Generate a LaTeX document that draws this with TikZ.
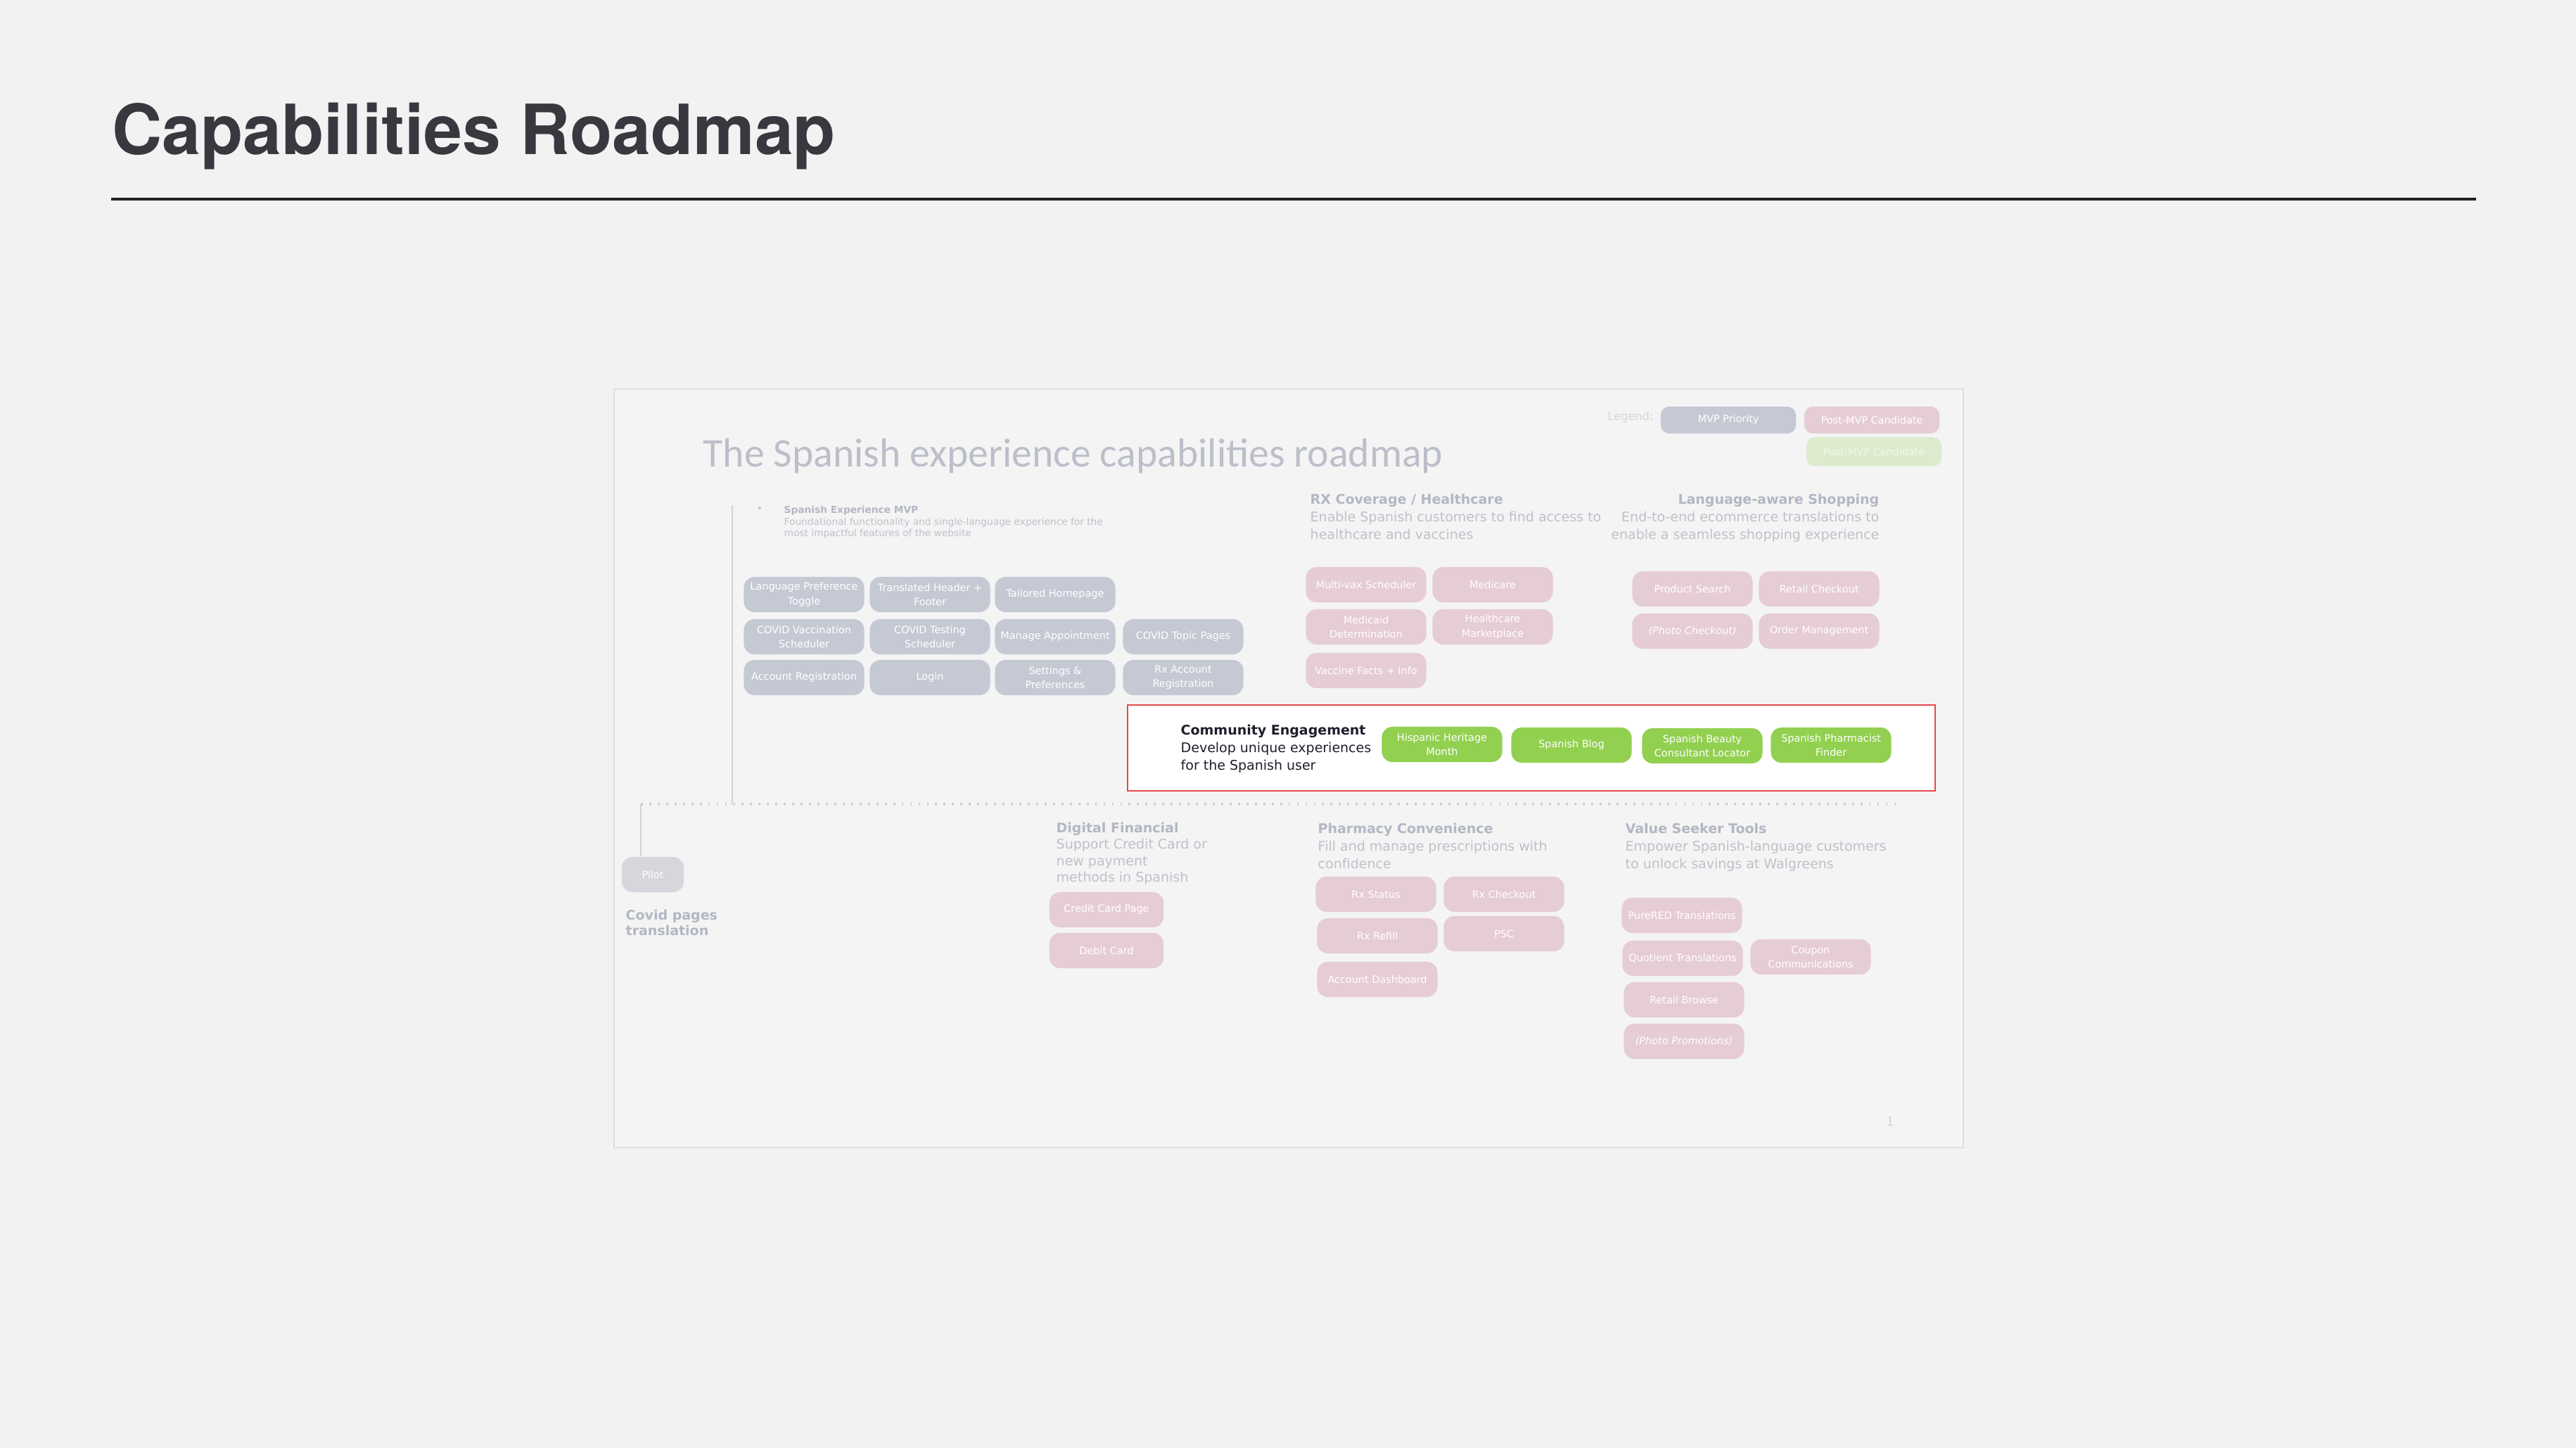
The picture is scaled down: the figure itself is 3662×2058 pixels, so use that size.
\documentclass[tikz,border=0pt]{standalone}
\usepackage{fontspec}
\setmainfont{DejaVu Sans}
\newfontfamily\calibri{Carlito}
\newfontfamily\heros{TeX Gyre Heros}

\definecolor{pagebg}{HTML}{F2F2F2}
\definecolor{slidebg}{HTML}{F4F4F4}
\definecolor{slideedge}{HTML}{DCDEE2}
\definecolor{titleink}{HTML}{38383F}
\definecolor{ruleink}{HTML}{222228}
\definecolor{fadedtitle}{HTML}{BCBFCA}
\definecolor{headgray}{HTML}{B3B7C4}
\definecolor{blurbgray}{HTML}{BEC1CB}
\definecolor{legendgray}{HTML}{D3D5DB}
\definecolor{mvpgray}{HTML}{C4C9D4}
\definecolor{postpink}{HTML}{E6CCD7}
\definecolor{postgreen}{HTML}{DCEACD}
\definecolor{enggreen}{HTML}{92D050}
\definecolor{pilotgray}{HTML}{D6D7DC}
\definecolor{redframe}{HTML}{E5484D}
\definecolor{inkdark}{HTML}{1E1E2D}
\definecolor{lineink}{HTML}{D0D2D8}

\newcommand\boxfont{\fontsize{4.1}{5.7}\selectfont}
\newcommand\blurbfont{\fontsize{5.4}{7.1}\selectfont}
\newcommand\finfont{\fontsize{5.4}{6.7}\selectfont}
\newcommand\smallblurb{\fontsize{3.9}{4.8}\selectfont}
\newcommand\covidfont{\fontsize{5.4}{6.5}\selectfont}

\begin{document}
\begin{tikzpicture}[x=0.01cm, y=-0.01cm,
    box/.style={rounded corners=0.15cm, minimum width=1.71cm, minimum height=0.5cm,
      inner sep=0pt, align=center, text=white, font=\boxfont},
    mvpbox/.style={box, fill=mvpgray},
    postbox/.style={box, fill=postpink},
    engbox/.style={box, fill=enggreen},
    legbox/.style={box, minimum width=1.92cm, minimum height=0.38cm, rounded corners=0.12cm},
    blurb/.style={inner sep=0pt, anchor=north west, align=left, text=blurbgray, font=\blurbfont},
    linkline/.style={draw=lineink, line width=0.5pt},
    dotline/.style={draw=lineink, line width=0.9pt, dash pattern=on 0.8pt off 2.6pt}]

    % Page and heading
    \useasboundingbox[fill=pagebg] (0,0) rectangle (3662,2058);
    \node[anchor=base west, inner sep=0pt, text=titleink, font=\heros\bfseries\fontsize{28}{34}\selectfont]
      (pagetitle) at (159,220) {Capabilities Roadmap};
    \draw[ruleink, line width=1.15pt] (158,283) -- (3520,283);

    % Embedded slide
    \draw[slideedge, fill=slidebg, line width=0.6pt] (873,553) rectangle (2791,1631);
    \node[anchor=base west, inner sep=0pt, text=fadedtitle, font=\calibri\fontsize{16.4}{20}\selectfont]
      (slidetitle) at (999,663) {The Spanish experience capabilities roadmap};

    % Legend
    \node[text=legendgray, font=\fontsize{4.6}{5.5}\selectfont] (legend) at (2318,593) {Legend:};
    \node[legbox, fill=mvpgray] (legmvp) at (2457,597) {MVP Priority};
    \node[legbox, fill=postpink] (legpost) at (2661,597) {Post-MVP Candidate};
    \node[legbox, fill=postgreen, text=white!60!postgreen, minimum height=0.41cm] (legnext) at (2664,642) {Post-MVP Candidate};

    % Spanish Experience MVP
    \node[text=blurbgray, inner sep=0pt, font=\smallblurb] (mvpdot) at (1080,724) {\textbullet};
    \node[blurb, font=\smallblurb] (mvphead) at (1114,718)
      {{\color{headgray}\bfseries Spanish Experience MVP}\\Foundational functionality and single-language experience for the\\most impactful features of the website};
    \node[mvpbox] (lang) at (1143,845) {Language Preference\\Toggle};
    \node[mvpbox] (header) at (1322,845) {Translated Header +\\Footer};
    \node[mvpbox] (home) at (1500,845) {Tailored Homepage};
    \node[mvpbox] (vaxsched) at (1143,905) {COVID Vaccination\\Scheduler};
    \node[mvpbox] (testsched) at (1322,905) {COVID Testing\\Scheduler};
    \node[mvpbox] (appt) at (1500,905) {Manage Appointment};
    \node[mvpbox] (topics) at (1682,905) {COVID Topic Pages};
    \node[mvpbox] (acctreg) at (1143,963) {Account Registration};
    \node[mvpbox] (login) at (1322,963) {Login};
    \node[mvpbox] (settings) at (1500,963) {Settings \&\\Preferences};
    \node[mvpbox] (rxacct) at (1682,963) {Rx Account\\Registration};

    % RX Coverage / Healthcare
    \node[blurb] (rxhead) at (1862,701)
      {{\color{headgray}\bfseries RX Coverage / Healthcare}\\Enable Spanish customers to find access to\\healthcare and vaccines};
    \node[postbox] (multivax) at (1942,831) {Multi-vax Scheduler};
    \node[postbox] (medicare) at (2122,831) {Medicare};
    \node[postbox] (medicaid) at (1942,891) {Medicaid\\Determination};
    \node[postbox] (marketplace) at (2122,891) {Healthcare\\Marketplace};
    \node[postbox] (vaxfacts) at (1942,953) {Vaccine Facts + Info};

    % Language-aware Shopping
    \node[blurb, anchor=north east, align=right] (shophead) at (2672,701)
      {{\color{headgray}\bfseries Language-aware Shopping}\\End-to-end ecommerce translations to\\enable a seamless shopping experience};
    \node[postbox] (prodsearch) at (2406,837) {Product Search};
    \node[postbox] (retailco) at (2586,837) {Retail Checkout};
    \node[postbox] (photoco) at (2406,897) {\itshape (Photo Checkout)};
    \node[postbox] (ordermgmt) at (2586,897) {Order Management};

    % Community Engagement
    \draw[redframe, fill=white, line width=0.7pt] (1603,1002) rectangle (2751,1124);
    \node[blurb, text=inkdark] (commhead) at (1678,1029)
      {\textbf{Community Engagement}\\Develop unique experiences\\for the Spanish user};
    \node[engbox] (heritage) at (2050,1058) {Hispanic Heritage\\Month};
    \node[engbox] (blog) at (2234,1059) {Spanish Blog};
    \node[engbox] (beauty) at (2420,1060) {Spanish Beauty\\Consultant Locator};
    \node[engbox] (pharmfinder) at (2603,1059) {Spanish Pharmacist\\Finder};

    % Timeline lines
    \coordinate (mvptop) at (1041,718);
    \coordinate (mvpfoot) at (1041,1143);
    \coordinate (dotL) at (911,1143);
    \coordinate (dotR) at (2700,1143);
    \node[box, fill=pilotgray, minimum width=0.88cm] (pilot) at (928,1243) {Pilot};
    \draw[linkline] (mvptop) -- (mvpfoot);
    \draw[dotline] (dotL) -- (dotR);
    \draw[linkline] (dotL) -- (dotL |- pilot.north);
    \node[blurb, text=headgray, font=\covidfont\bfseries] (covidnote) at (889,1292) {Covid pages\\translation};

    % Digital Financial
    \node[blurb, font=\finfont] (finhead) at (1501,1168)
      {{\color{headgray}\bfseries Digital Financial}\\Support Credit Card or\\new payment\\methods in Spanish};
    \node[postbox, minimum width=1.62cm] (ccpage) at (1573,1293) {Credit Card Page};
    \node[postbox, minimum width=1.62cm] (debit) at (1573,1351) {Debit Card};

    % Pharmacy Convenience
    \node[blurb] (pharmhead) at (1873,1169)
      {{\color{headgray}\bfseries Pharmacy Convenience}\\Fill and manage prescriptions with\\confidence};
    \node[postbox] (rxstatus) at (1956,1271) {Rx Status};
    \node[postbox] (rxco) at (2138,1271) {Rx Checkout};
    \node[postbox] (rxrefill) at (1958,1330) {Rx Refill};
    \node[postbox] (psc) at (2138,1327) {PSC};
    \node[postbox] (dashboard) at (1958,1392) {Account Dashboard};

    % Value Seeker Tools
    \node[blurb] (valuehead) at (2310,1169)
      {{\color{headgray}\bfseries Value Seeker Tools}\\Empower Spanish-language customers\\to unlock savings at Walgreens};
    \node[postbox] (purered) at (2391,1301) {PureRED Translations};
    \node[postbox] (quotient) at (2392,1362) {Quotient Translations};
    \node[postbox] (coupon) at (2574,1360) {Coupon\\Communications};
    \node[postbox] (browse) at (2394,1421) {Retail Browse};
    \node[postbox] (photopromo) at (2394,1480) {\itshape (Photo Promotions)};

    \node[text=legendgray, font=\fontsize{5}{6}\selectfont] (pagenum) at (2687,1594) {1};
\end{tikzpicture}
\end{document}
